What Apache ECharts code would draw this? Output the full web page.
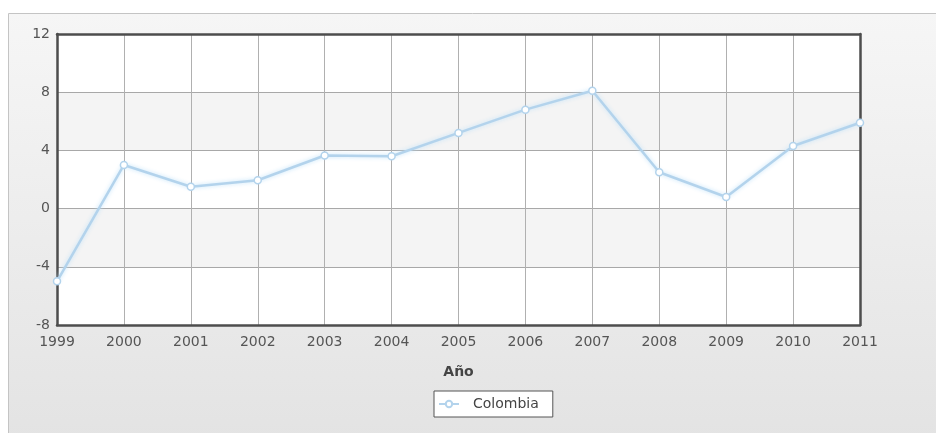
<!DOCTYPE html>
<html>
<head>
<meta charset="utf-8">
<script src="https://cdn.jsdelivr.net/npm/echarts@6/dist/echarts.min.js"></script>
<style>
  html, body { margin: 0; padding: 0; background: #ffffff; }
  #chart { width: 936px; height: 433px; }
</style>
</head>
<body>
<div id="chart"></div>
<script>
// Años del eje horizontal
const years = ['1999', '2000', '2001', '2002', '2003', '2004', '2005', '2006', '2007', '2008', '2009', '2010', '2011'];
// Serie Colombia
const seriesName = 'Colombia';
const colombia = [-5.0, 3.0, 1.5, 1.95, 3.65, 3.6, 5.2, 6.8, 8.1, 2.5, 0.8, 4.3, 5.9];
// Escala vertical
const yMin = -8, yMax = 12, yStep = 4;
const xAxisTitle = 'Año';

const FONT = 'DejaVu Sans, Verdana, sans-serif';
// Marco oscuro del área de trazado (cuatro ejes sin etiquetas extra)
const FRAME = { show: true, onZero: false, lineStyle: { color: '#4d4d4d', width: 2.5 } };
const chart = echarts.init(document.getElementById('chart'));

chart.setOption({
  animation: false,
  backgroundColor: '#ffffff',
  graphic: [{
    type: 'rect',
    z: -10,
    shape: { x: 8.5, y: 13.5, width: 940, height: 430 },
    style: {
      fill: new echarts.graphic.LinearGradient(0, 0, 0, 1, [
        { offset: 0, color: '#f6f6f6' },
        { offset: 1, color: '#e3e3e3' }
      ]),
      stroke: '#c4c4c4',
      lineWidth: 1
    }
  }],
  grid: { left: 57, right: 76, top: 34, bottom: 108 },
  legend: {
    left: 434, top: 391,
    data: [seriesName],
    backgroundColor: '#ffffff',
    borderColor: '#555555',
    borderWidth: 1,
    borderRadius: 0,
    padding: [6, 14, 6, 4],
    itemWidth: 20, itemHeight: 8,
    textStyle: { fontFamily: FONT, fontSize: 14, color: '#444444', padding: [0, 0, 0, 9] }
  },
  xAxis: [{
    type: 'category',
    data: years,
    boundaryGap: false,
    name: xAxisTitle,
    nameLocation: 'middle',
    nameGap: 40,
    nameTextStyle: { fontFamily: FONT, fontSize: 14, fontWeight: 'bold', color: '#444444' },
    axisLine: FRAME,
    axisTick: { show: false },
    axisLabel: { fontFamily: FONT, fontSize: 14, color: '#555555', margin: 10 },
    splitLine: { show: true, lineStyle: { color: '#b0b0b0', width: 1 } }
  }, {
    type: 'category',
    data: years,
    boundaryGap: false,
    position: 'top',
    axisLine: FRAME,
    axisTick: { show: false },
    axisLabel: { show: false },
    splitLine: { show: false }
  }],
  yAxis: [{
    type: 'value',
    min: yMin, max: yMax, interval: yStep,
    axisLine: FRAME,
    axisTick: { show: false },
    axisLabel: { fontFamily: FONT, fontSize: 14, color: '#555555', margin: 7 },
    splitLine: { show: true, lineStyle: { color: '#a8a8a8', width: 1 } },
    splitArea: { show: true, areaStyle: { color: ['#ffffff', '#f4f4f4'] } }
  }, {
    type: 'value',
    min: yMin, max: yMax, interval: yStep,
    position: 'right',
    axisLine: FRAME,
    axisTick: { show: false },
    axisLabel: { show: false },
    splitLine: { show: false }
  }],
  series: [{
    name: seriesName,
    type: 'line',
    data: colombia,
    symbol: 'circle',
    symbolSize: 7,
    clip: false,
    z: 5,
    lineStyle: {
      color: '#b3d3ec', width: 2.5,
      shadowColor: 'rgba(190,225,250,0.9)', shadowBlur: 4
    },
    itemStyle: { color: '#ffffff', borderColor: '#b3d3ec', borderWidth: 1.5 }
  }]
});
</script>
</body>
</html>
